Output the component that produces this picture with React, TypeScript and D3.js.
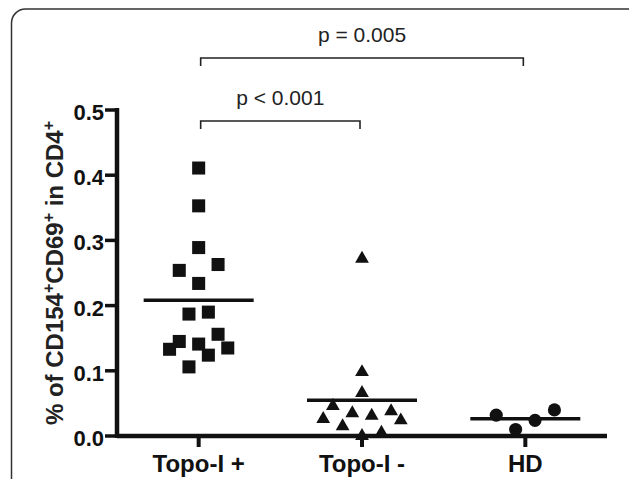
import React from 'react';
import * as d3 from 'd3';

// groups on the x axis
const categories = ['Topo-I +', 'Topo-I -', 'HD'];

// % of CD154+CD69+ in CD4+, with the swarm lane of each point
const topoPosValues = [0.411, 0.353, 0.289, 0.263, 0.254, 0.234, 0.190, 0.187, 0.156, 0.145, 0.141, 0.135, 0.133, 0.124, 0.106];
const topoPosLanes = [0, 0, 0, 2, -2, 0, 1, -1, 2, -2, 0, 3, -3, 1, -1];
const topoNegValues = [0.272, 0.098, 0.066, 0.046, 0.038, 0.035, 0.031, 0.026, 0.024, 0.015, 0.005, 0.0];
const topoNegLanes = [0, 0, 0, -3, 3, -1, 1, -4, 4, -2, 2, 0];
const hdValues = [0.032, 0.010, 0.024, 0.040];
const hdLanes = [-3, -1, 1, 3];

const yTicks = [0, 0.1, 0.2, 0.3, 0.4, 0.5];

const comparisons = [
    { from: 'Topo-I +', to: 'Topo-I -', label: 'p < 0.001', level: 0 },
    { from: 'Topo-I +', to: 'HD', label: 'p = 0.005', level: 1 },
];

const width = 629;
const height = 479;
const font = '"Liberation Sans", Arial, Helvetica, sans-serif';
const ink = '#111';

const App = () => {
    const x = d3.scalePoint<string>()
        .domain(categories)
        .range([117, 607])
        .padding(0.5);

    const y = d3.scaleLinear()
        .domain([0, 0.5])
        .range([436, 110]);

    const laneWidth = 9.7;
    const meanHalf = 55;

    const groups = [
        { name: 'Topo-I +', values: topoPosValues, lanes: topoPosLanes, shape: d3.symbolSquare, size: 170 },
        { name: 'Topo-I -', values: topoNegValues, lanes: topoNegLanes, shape: d3.symbolTriangle, size: 82 },
        { name: 'HD', values: hdValues, lanes: hdLanes, shape: d3.symbolCircle, size: 135 },
    ];

    return (
        <svg width={width} height={height} style={{ position: 'absolute', left: 0, top: 0, background: '#fff' }}>
            <rect x={11.5} y={9} width={640} height={520} rx={14} fill="#fff" stroke="#333" strokeWidth={1.5} />

            {/* significance brackets */}
            {comparisons.map(c => {
                const yy = c.level === 0 ? y(0.5) + 11 : y(0.5) - 52;
                const x1 = x(c.from)! + 2;
                const x2 = x(c.to)! - 2;
                return (
                    <g key={c.label}>
                        <path d={`M${x1},${yy + 8}V${yy}H${x2}V${yy + 8}`} fill="none" stroke="#222" strokeWidth={1.6} />
                        <text x={(x1 + x2) / 2} y={yy - 16} textAnchor="middle" fontFamily={font} fontSize={21} fill="#222">
                            {c.label}
                        </text>
                    </g>
                );
            })}

            {/* y axis */}
            <line x1={x.range()[0]} x2={x.range()[0]} y1={y(0.5) - 2} y2={y(0) + 2} stroke={ink} strokeWidth={4.5} />
            {yTicks.map(t => (
                <g key={t}>
                    <line x1={x.range()[0] - 12} x2={x.range()[0]} y1={y(t)} y2={y(t)} stroke={ink} strokeWidth={3.5} />
                    <text x={x.range()[0] - 13} y={y(t) + 10} textAnchor="end" fontFamily={font} fontWeight="bold" fontSize={22} fill={ink}>
                        {d3.format('.1f')(t)}
                    </text>
                </g>
            ))}

            {/* x axis */}
            <line x1={x.range()[0]} x2={x.range()[1]} y1={y(0)} y2={y(0)} stroke={ink} strokeWidth={4.5} />
            {categories.map(c => (
                <g key={c}>
                    <line x1={x(c)} x2={x(c)} y1={y(0)} y2={y(0) + 11} stroke={ink} strokeWidth={4} />
                    <text x={x(c)} y={472} textAnchor="middle" fontFamily={font} fontWeight="bold" fontSize={24} fill={ink}>
                        {c}
                    </text>
                </g>
            ))}

            {/* y title */}
            <text transform={`translate(63,${(y(0) + y(0.5)) / 2}) rotate(-90)`} textAnchor="middle"
                fontFamily={font} fontWeight="bold" fontSize={24} fill="#222">
                % of CD154<tspan fontSize={16} dy={-9}>+</tspan>
                <tspan dy={9}>CD69</tspan><tspan fontSize={16} dy={-9}>+</tspan>
                <tspan dy={9}> in CD4</tspan><tspan fontSize={16} dy={-9}>+</tspan>
            </text>

            {/* points and means */}
            {groups.map(g => {
                const cx = x(g.name)!;
                const sym = d3.symbol(g.shape, g.size)();
                const mean = d3.mean(g.values)!;
                return (
                    <g key={g.name}>
                        {g.values.map((v, i) => (
                            <path key={i} d={sym!} transform={`translate(${cx + g.lanes[i] * laneWidth},${y(v)})`} fill={ink} />
                        ))}
                        <line x1={cx - meanHalf} x2={cx + meanHalf} y1={y(mean)} y2={y(mean)} stroke={ink} strokeWidth={3.5} />
                    </g>
                );
            })}
        </svg>
    );
};

export default App;
